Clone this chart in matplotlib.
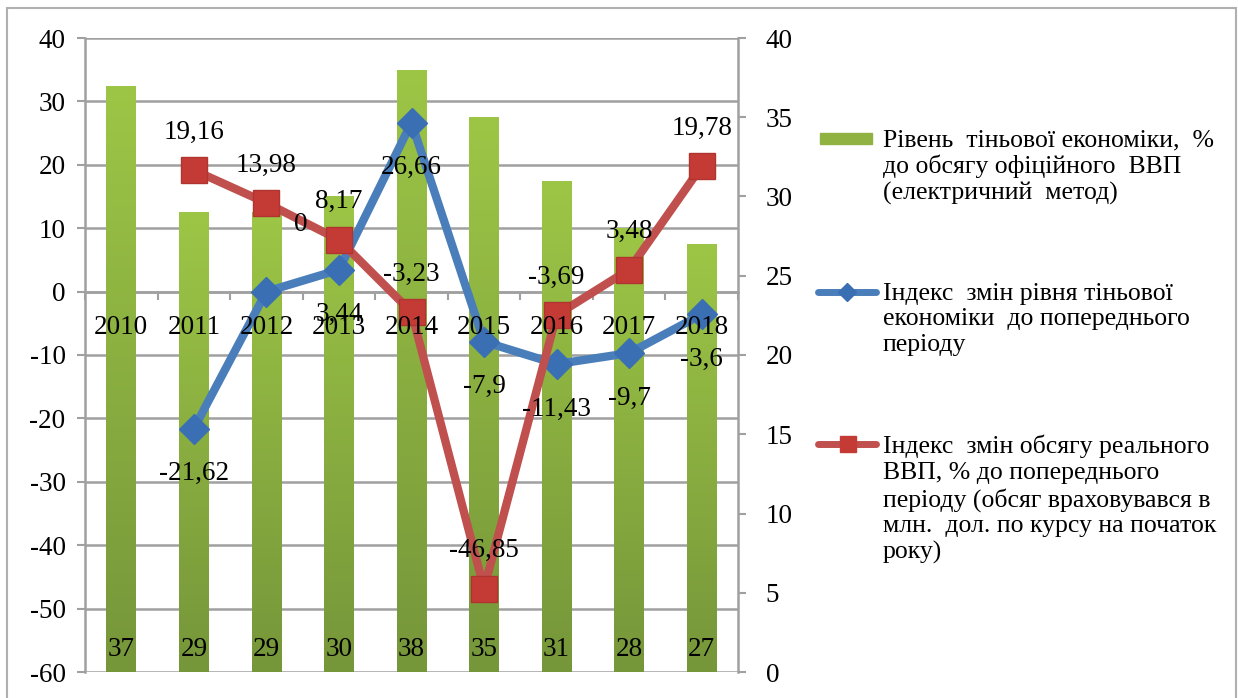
import numpy as np
import matplotlib.pyplot as plt
from matplotlib.colors import LinearSegmentedColormap
from matplotlib.lines import Line2D
from matplotlib.patches import Rectangle

plt.rcParams['font.family'] = ['Liberation Serif', 'DejaVu Serif']
plt.rcParams['axes.unicode_minus'] = False

years = ['2010', '2011', '2012', '2013', '2014', '2015', '2016', '2017', '2018']
shadow_level = [37, 29, 29, 30, 38, 35, 31, 28, 27]
shadow_index = [None, -21.62, 0, 3.44, 26.66, -7.9, -11.43, -9.7, -3.6]
gdp_index = [None, 19.16, 13.98, 8.17, -3.23, -46.85, -3.69, 3.48, 19.78]

legend_labels = [
    'Рівень  тіньової економіки,  %\nдо обсягу офіційного  ВВП\n(електричний  метод)',
    'Індекс  змін рівня тіньової\nекономіки  до попереднього\nперіоду',
    'Індекс  змін обсягу реального\nВВП, % до попереднього\nперіоду (обсяг враховувався в\nмлн.  дол. по курсу на початок\nроку)',
]

green_top, green_bot = '#9dc646', '#76963a'
blue = '#4a7ebb'
blue_mk = '#3b6fb3'
red = '#c0504d'
red_mk = '#c43a35'
grid_c = '#a0a0a0'
fs = 19.5

fig = plt.figure(figsize=(12.38, 6.98), dpi=100)
fig.patches.append(Rectangle((7 / 1238, -0.01), 1229 / 1238, 1 - 8 / 698 + 0.01,
                             transform=fig.transFigure, fill=False,
                             edgecolor='#b0b0b0', lw=1.5))

ax = fig.add_axes([85 / 1238, 26 / 698, 653 / 1238, 634 / 698])
x = np.arange(len(years))

# left axis: grid and value ticks
ax.set_xlim(-0.5, len(years) - 0.5)
ax.set_ylim(-60, 40)
ax.set_yticks(range(-60, 41, 10))
ax.yaxis.grid(True, color=grid_c, lw=1.8)
ax.set_axisbelow(True)
for s in ['top', 'right']:
    ax.spines[s].set_visible(False)
ax.spines['left'].set_color(grid_c)
ax.spines['left'].set_linewidth(1.8)
ax.spines['bottom'].set_position(('data', 0))
ax.spines['bottom'].set_color(grid_c)
ax.spines['bottom'].set_linewidth(1.8)
ax.tick_params(axis='y', length=6, width=1.5, color=grid_c, labelsize=fs, pad=8)
ax.set_xticks([])
ax.set_xticks(np.arange(-0.5, len(years)), minor=True)
ax.tick_params(axis='x', which='minor', length=6, width=1.5, color=grid_c, direction='out')

# right axis: bars
ax2 = ax.twinx()
ax2.set_ylim(0, 40)
ax2.set_yticks(range(0, 41, 5))
for s in ['top', 'left', 'bottom']:
    ax2.spines[s].set_visible(False)
ax2.spines['right'].set_color(grid_c)
ax2.spines['right'].set_linewidth(1.8)
ax2.tick_params(axis='y', length=6, width=1.5, color=grid_c, labelsize=fs, pad=14)

bars = ax2.bar(x, shadow_level, width=0.41, color=green_top, lw=0)
cmap = LinearSegmentedColormap.from_list('g', [green_bot, green_top])
grad = np.linspace(0, 1, 256).reshape(-1, 1)
for b, v in zip(bars, shadow_level):
    x0, w, h = b.get_x(), b.get_width(), b.get_height()
    im = ax2.imshow(grad, cmap=cmap, origin='lower', aspect='auto',
                    extent=(x0, x0 + w, 0, h), zorder=2)
    im.set_clip_path(b)
    ax2.text(b.get_x() + w / 2, 0.6, str(v), ha='center', va='bottom',
             fontsize=fs, zorder=3)
ax2.set_xlim(-0.5, len(years) - 0.5)

# third axis for the index lines on the left scale
ax3 = ax.twinx()
ax3.set_ylim(-60, 40)
ax3.axis('off')

# category labels sit on the zero line, above the bars
for xi, yr in zip(x, years):
    ax3.annotate(yr, (xi, 0), xytext=(0, -36), textcoords='offset pixels',
                 ha='center', va='center', fontsize=fs)

xs = x[1:]
sh = shadow_index[1:]
gd = gdp_index[1:]
ax3.plot(xs, sh, color=blue, lw=6, marker='D', markersize=15,
         markerfacecolor=blue_mk, markeredgecolor=blue_mk, solid_joinstyle='round')
ax3.plot(xs, gd, color=red, lw=6, marker='s', markersize=19,
         markerfacecolor=red_mk, markeredgecolor='#b03530', solid_joinstyle='round')

def fmt(v):
    return ('%g' % v).replace('.', ',')

for xi, v in zip(xs, gd):
    ax3.annotate(fmt(v), (xi, v), xytext=(0, 38), textcoords='offset pixels',
                 ha='center', va='center', fontsize=fs)
for xi, v in zip(xs, sh):
    off = (34, 67) if v == 0 else (0, -45)
    ax3.annotate(fmt(v), (xi, v), xytext=off, textcoords='offset pixels',
                 ha='center', va='center', fontsize=fs)
ax3.set_xlim(-0.5, len(years) - 0.5)

# legend drawn by hand next to the plot
def fx(px):
    return px / 1238

def fy(py):
    return 1 - py / 698

entries = [
    (138, Rectangle((fx(820), fy(144)), fx(52), 11 / 698, color='#8fb243',
                    transform=fig.transFigure)),
    (292, [Line2D([fx(818), fx(876)], [fy(292), fy(292)], color=blue, lw=5,
                  solid_capstyle='round', transform=fig.transFigure),
           Line2D([fx(847)], [fy(292)], marker='D', ms=9, color=blue_mk,
                  transform=fig.transFigure)]),
    (444, [Line2D([fx(818), fx(876)], [fy(444), fy(444)], color=red, lw=5,
                  solid_capstyle='round', transform=fig.transFigure),
           Line2D([fx(848)], [fy(444)], marker='s', ms=11, color=red_mk,
                  transform=fig.transFigure)]),
]
for (py, art), lab in zip(entries, legend_labels):
    for a in (art if isinstance(art, list) else [art]):
        if isinstance(a, Line2D):
            fig.lines.append(a)
        else:
            fig.patches.append(a)
    fig.text(fx(883), fy(py - 9), lab, ha='left', va='top', fontsize=18.5,
             linespacing=1.2)

plt.savefig('out.png', dpi=100)
